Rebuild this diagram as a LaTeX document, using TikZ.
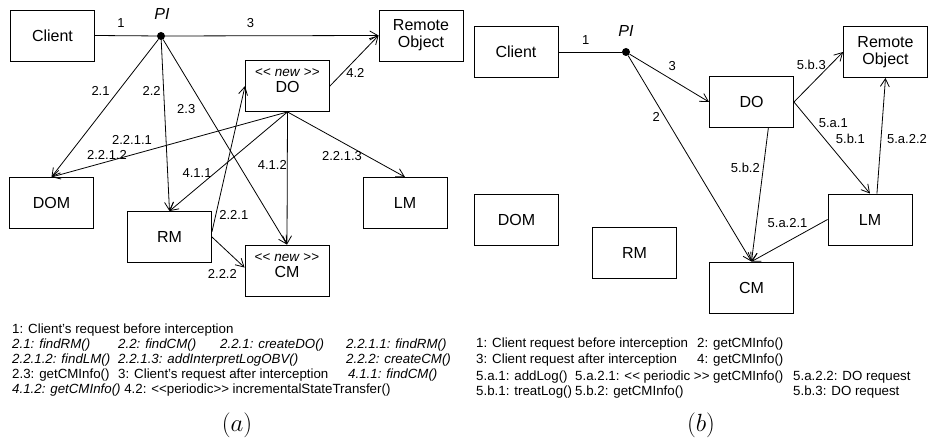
\documentclass[tikz,border=0pt]{standalone}
\usepackage{fontspec}
\setmainfont{Liberation Sans}[Ligatures=TeXOff]
\usetikzlibrary{arrows.meta}
\newcommand\stereonew{{\fontsize{13.5}{14}\selectfont<< \textit{new} >>}}
\begin{document}
\begin{tikzpicture}[x=1pt,y=-1pt,
  box/.style={draw, line width=0.9pt, minimum width=84pt, minimum height=51pt, inner sep=0pt, align=center, font=\fontsize{16}{17}\selectfont},
  boxtxt/.style={inner sep=0pt, align=center, font=\fontsize{16}{16}\selectfont},
  dot/.style={circle, fill, inner sep=0pt, minimum size=8pt},
  conn/.style={line width=0.8pt},
  arr/.style={conn, -{Straight Barb[length=8pt,width=9pt]}},
  lbl/.style={font=\fontsize{13}{15}\selectfont, inner sep=0pt},
  pilbl/.style={font=\fontsize{16}{17}\selectfont\itshape, inner sep=0pt},
  leg/.style={font=\fontsize{13.3}{15}\selectfont, anchor=base west, inner sep=0pt},
  figcap/.style={font=\fontsize{23}{23}\selectfont, inner sep=0pt},
]
\useasboundingbox (0,0) rectangle (930,441);

% ---------------- (a) ----------------
\node[box] (CL_L) at (52.5,35.5) {Client};
\node[box] (RO_L) at (421,35.5) {Remote\\Object};
\node[box, label={[boxtxt,name=DOt_L,yshift=5.5pt]center:{\stereonew\\DO}}] (DO_L) at (287.5,86) {};
\node[box] (DOM_L) at (51.5,203) {DOM};
\node[box] (RM_L) at (169.5,237) {RM};
\node[box, label={[boxtxt,name=CMt_L,yshift=5pt]center:{\stereonew\\CM}}] (CM_L) at (287,270.5) {};
\node[box] (LM_L) at (405,203) {LM};
\node[dot] (PI_L) at (161,36) {};
\node[pilbl] (PIt_L) at (162,14) {PI};

\draw[conn] (CL_L.east) -- node[lbl,pos=.42,shift={(0,-13)}] (e1_L) {1} (PI_L);
\draw[arr] (PI_L) -- node[lbl,pos=.40,shift={(0,-13)}] (e3_L) {3} (RO_L.west);
\draw[arr] (PI_L) -- node[lbl,pos=.373,shift={(-18,0)}] (e21_L) {2.1} (DOM_L.north);
\draw[arr] (PI_L) -- node[lbl,pos=.30,shift={(-12,0)}] (e22_L) {2.2} (RM_L.north);
\draw[arr] (PI_L) -- node[lbl,pos=.34,shift={(-19,0)}] (e23_L) {2.3} (CM_L.north);
\draw[arr] (DO_L.east) -- node[lbl,pos=.257,shift={(13,0)}] (e42_L) {4.2} (RO_L.west);
\draw[arr] (DO_L.south) -- node[lbl,pos=.659,shift={(0,-15)}] (e2211_L) {2.2.1.1}
  node[lbl,pos=.765,shift={(0,-7)}] (e2212_L) {2.2.1.2} (DOM_L.north);
\draw[arr] (DO_L.south) -- node[lbl,pos=.614,shift={(-18,0)}] (e411_L) {4.1.1} (RM_L.north);
\draw[arr] (DO_L.south) -- node[lbl,pos=.40,shift={(-15,0)}] (e412_L) {4.1.2} (CM_L.north);
\draw[arr] (DO_L.south) -- node[lbl,pos=.464,shift={(0,14)}] (e2213_L) {2.2.1.3} (LM_L.north);
\draw[arr] (RM_L.7) -- node[lbl,pos=.116,shift={(18,0)}] (e221_L) {2.2.1} (DO_L.west);
\draw[arr] (RM_L.east) -- node[lbl,pos=.32,shift={(0,27)}] (e222_L) {2.2.2} (CM_L.176);

\node[leg] (la1) at (12,333) {1: Client’s request before interception};
\node[leg] (la2a) at (12,348) {\itshape 2.1: findRM()};
\node[leg] (la2b) at (118,348) {\itshape 2.2: findCM()};
\node[leg] (la2c) at (220,348) {\itshape 2.2.1: createDO()};
\node[leg] (la2d) at (346,348) {\itshape 2.2.1.1: findRM()};
\node[leg] (la3a) at (12,363) {\itshape 2.2.1.2: findLM()};
\node[leg] (la3b) at (118,363) {\itshape 2.2.1.3: addInterpretLogOBV()};
\node[leg] (la3c) at (346,363) {\itshape 2.2.2: createCM()};
\node[leg] (la4a) at (12,378) {2.3: getCMInfo()};
\node[leg] (la4b) at (118,378) {3: Client’s request after interception};
\node[leg] (la4c) at (348,378) {\itshape 4.1.1: findCM()};
\node[leg] (la5) at (12,393) {\textit{4.1.2: getCMInfo()} 4.2: <<periodic>> incrementalStateTransfer()};
\node[figcap] (capA) at (237,425) {$(a)$};

% ---------------- (b) ----------------
\node[box] (CL_R) at (516,52) {Client};
\node[dot] (PI_R) at (626,52) {};
\node[pilbl] (PIt_R) at (626,31) {PI};
\node[box] (RO_R) at (885.5,52) {Remote\\Object};
\node[box] (DO_R) at (751.5,102) {DO};
\node[box] (DOM_R) at (516.5,219.5) {DOM};
\node[box] (RM_R) at (634.5,253) {RM};
\node[box] (CM_R) at (751.5,287.5) {CM};
\node[box] (LM_R) at (870,219.5) {LM};

\draw[conn] (CL_R.east) -- node[lbl,pos=.43,shift={(0,-12)}] (e1_R) {1} (PI_R);
\draw[arr] (PI_R) -- node[lbl,pos=.536,shift={(0,-14)}] (e3_R) {3} (DO_R.west);
\draw[arr] (PI_R) -- node[lbl,pos=.30,shift={(-9,0)}] (e2_R) {2} (CM_R.north);
\draw[arr] (DO_R.east) -- node[lbl,pos=.74,shift={(-19,0)}] (e5b3_R) {5.b.3} (RO_R.west);
\draw[arr] (DO_R.east) -- node[lbl,pos=.228,shift={(22,0)}] (e5a1_R) {5.a.1}
  node[lbl,pos=.40,shift={(26,0)}] (e5b1_R) {5.b.1} (LM_R.north);
\draw[arr] (LM_R.75) -- node[lbl,pos=.47,shift={(26,0)}] (e5a22_R) {5.a.2.2} (RO_R.south);
\draw[arr] (DO_R.-57) -- node[lbl,pos=.296,shift={(-18,0)}] (e5b2_R) {5.b.2} (CM_R.north);
\draw[arr] (LM_R.west) -- node[lbl,pos=.526,shift={(0,-19)}] (e5a21_R) {5.a.2.1} (CM_R.north);

\node[leg] (lb1a) at (476,347) {1: Client request before interception};
\node[leg] (lb1b) at (697,347) {2: getCMInfo()};
\node[leg] (lb2a) at (476,363) {3: Client request after interception};
\node[leg] (lb2b) at (697,363) {4: getCMInfo()};
\node[leg] (lb3a) at (476,380) {5.a.1: addLog()};
\node[leg] (lb3b) at (575,380) {5.a.2.1: << periodic >> getCMInfo()};
\node[leg] (lb3c) at (793,380) {5.a.2.2: DO request};
\node[leg] (lb4a) at (476,395) {5.b.1: treatLog()};
\node[leg] (lb4b) at (575,395) {5.b.2: getCMInfo()};
\node[leg] (lb4c) at (793,395) {5.b.3: DO request};
\node[figcap] (capB) at (701,425) {$(b)$};
\end{tikzpicture}
\end{document}
